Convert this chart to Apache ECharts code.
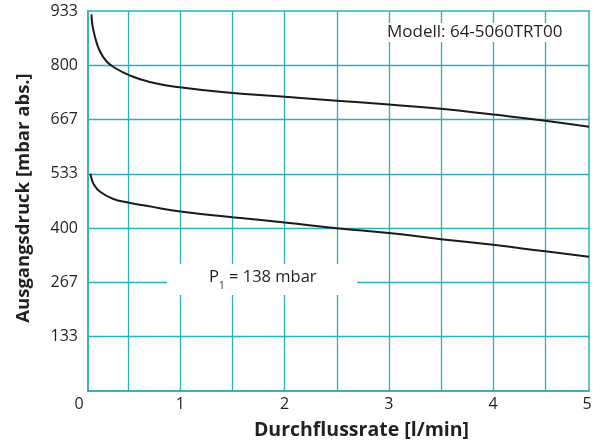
<!DOCTYPE html>
<html>
<head>
<meta charset="utf-8">
<script src="https://cdn.jsdelivr.net/npm/echarts@6/dist/echarts.min.js"></script>
<style>html,body{margin:0;padding:0;background:#fff}#c{width:604px;height:447px}</style>
</head>
<body>
<div id="c"></div>
<script>
// Axis range (the printed chart is cropped a little inside 0..5)
const X_MIN = 0.113, X_MAX = 4.92;
const X_GRID = [0.5, 1, 1.5, 2, 2.5, 3, 3.5, 4, 4.5];
const X_LABELS = [X_MIN, 1, 2, 3, 4, X_MAX];
const Y_MAX = 2800 / 3;
const Y_GRID = [400/3, 800/3, 400, 1600/3, 2000/3, 800];
const Y_LABELS = [400/3, 800/3, 400, 1600/3, 2000/3, 800, 2800/3];

// Upper curve
const upperX = [0.146, 0.155, 0.178, 0.226, 0.29, 0.37, 0.497, 0.705, 0.993, 1.5, 2.0, 2.5, 3.0, 3.5, 4.0, 4.5, 4.92];
const upperY = [925, 900, 872, 835, 810, 794, 777, 759, 746, 732, 722.5, 713, 703.5, 693, 679, 664, 649];
// Lower curve
const lowerX = [0.136, 0.146, 0.168, 0.226, 0.353, 0.497, 0.673, 1.0, 1.5, 2.0, 2.5, 3.0, 3.5, 4.0, 4.5, 4.92];
const lowerY = [534, 523, 508, 490, 472, 463, 455, 441, 427, 414, 400, 388, 373, 359, 343, 330];

const MODEL_TEXT = 'Modell: 64-5060TRT00';
const X_NAME = 'Durchflussrate [l/min]';
const Y_NAME = 'Ausgangsdruck [mbar abs.]';
const P_MAIN = 'P', P_SUB = '1', P_REST = '= 138 mbar';

const TEAL = '#2cb0bc';
const TXT = '#231f20';
const FONT = 'Open Sans';

const zip = (xs, ys) => xs.map((x, i) => [x, ys[i]]);

const chart = echarts.init(document.getElementById('c'), null, {renderer: 'canvas'});
chart.setOption({
  animation: false,
  grid: {left: 88, right: 15, top: 11, bottom: 56, show: true, borderColor: TEAL, borderWidth: 1.5, backgroundColor: 'transparent'},
  xAxis: {
    type: 'value', min: X_MIN, max: X_MAX,
    name: X_NAME, nameLocation: 'middle', nameGap: 29,
    nameTextStyle: {fontFamily: FONT, fontWeight: 'bold', fontSize: 19.5, color: TXT, padding: [0, 0, 0, 46]},
    axisLine: {show: true, lineStyle: {color: TEAL, width: 1.5}},
    axisTick: {show: false, customValues: X_GRID},
    splitLine: {show: true, lineStyle: {color: TEAL, width: 1.3}},
    axisLabel: {
      customValues: X_LABELS, margin: 5, fontFamily: FONT, fontSize: 16, color: TXT,
      formatter: v => v < 0.5 ? '{a|0}' : (v > 4.5 ? '{b|5}' : String(Math.round(v))),
      rich: {
        a: {fontFamily: FONT, fontSize: 16, color: TXT, padding: [0, 18, 0, 0]},
        b: {fontFamily: FONT, fontSize: 16, color: TXT, padding: [0, 4, 0, 0]}
      }
    }
  },
  yAxis: {
    type: 'value', min: 0, max: Y_MAX,
    name: Y_NAME, nameLocation: 'middle', nameGap: 55,
    nameTextStyle: {fontFamily: FONT, fontWeight: 'bold', fontSize: 18.5, color: TXT, padding: [0, 0, 0, 6]},
    axisLine: {show: true, lineStyle: {color: TEAL, width: 1.5}},
    axisTick: {show: false, customValues: Y_GRID},
    splitLine: {show: true, lineStyle: {color: TEAL, width: 1.3}},
    axisLabel: {
      customValues: Y_LABELS, margin: 10, fontFamily: FONT, fontSize: 16, color: TXT,
      formatter: v => String(Math.round(v))
    }
  },
  series: [
    {type: 'line', data: zip(upperX, upperY), smooth: 0.5, symbol: 'none', lineStyle: {color: '#1a1a1a', width: 2}},
    {type: 'line', data: zip(lowerX, lowerY), smooth: 0.5, symbol: 'none', lineStyle: {color: '#1a1a1a', width: 2}}
  ],
  graphic: [
    {type: 'text', left: 383, top: 23, z: 100,
     style: {text: MODEL_TEXT, fontFamily: FONT, fontSize: 17, fill: TXT, backgroundColor: '#fff', padding: [1, 4, 1, 4]}},
    {type: 'group', left: 167, top: 264, z: 100, children: [
      {type: 'rect', shape: {x: 0, y: 0, width: 190, height: 31}, style: {fill: '#fff'}, z: 100},
      {type: 'text', x: 42, y: 5, z: 101, style: {text: P_MAIN, fontFamily: FONT, fontSize: 16.5, fill: TXT}},
      {type: 'text', x: 52, y: 17, z: 101, style: {text: P_SUB, fontFamily: FONT, fontSize: 10, fill: TXT}},
      {type: 'text', x: 62, y: 5, z: 101, style: {text: P_REST, fontFamily: FONT, fontSize: 16.5, fill: TXT}}
    ]}
  ]
});
</script>
</body>
</html>
